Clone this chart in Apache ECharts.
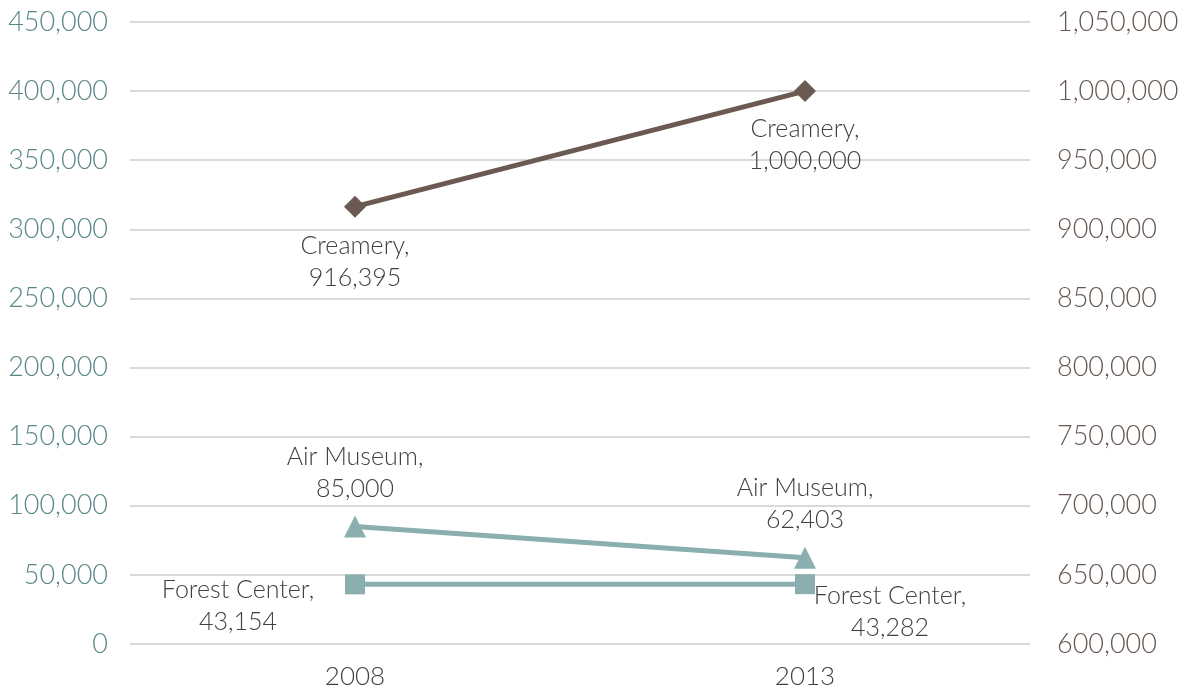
<!DOCTYPE html>
<html>
<head>
<meta charset="utf-8">
<script src="https://cdn.jsdelivr.net/npm/echarts@6/dist/echarts.min.js"></script>
<style>
  html, body { margin: 0; padding: 0; background: #fff; }
  #main { width: 1188px; height: 694px; }
</style>
</head>
<body>
<div id="main"></div>
<script>
var years = ['2008', '2013'];
var creamery = [916395, 1000000];
var airMuseum = [85000, 62403];
var forestCenter = [43154, 43282];

var dom = document.getElementById('main');
var chart = echarts.init(dom);

var fontFam = 'Lato, "Open Sans", sans-serif';

function fmt(v) {
    return v.toLocaleString('en-US');
}

function lab(offset) {
    return {
        show: true,
        position: 'inside',
        offset: offset,
        align: 'center',
        verticalAlign: 'middle',
        color: '#404040',
        fontSize: 25,
        fontWeight: 300,
        fontFamily: fontFam,
        lineHeight: 32,
        formatter: function (p) {
            return p.seriesName + ',\n' + fmt(p.value);
        }
    };
}

var option = {
    animation: false,
    grid: {
        left: 130,
        right: 158,
        top: 22,
        bottom: 50
    },
    xAxis: {
        type: 'category',
        data: years,
        axisLine: {show: false},
        axisTick: {show: false},
        axisLabel: {
            color: '#404040',
            fontSize: 26,
            fontWeight: 300,
            fontFamily: fontFam,
            margin: 20
        }
    },
    yAxis: [{
        type: 'value',
        min: 0,
        max: 450000,
        interval: 50000,
        axisLine: {show: false},
        axisTick: {show: false},
        splitLine: {lineStyle: {color: '#d9d9d9', width: 2}},
        axisLabel: {
            color: '#5a8787',
            fontSize: 27,
            fontWeight: 300,
            fontFamily: fontFam,
            margin: 22,
            formatter: fmt
        }
    }, {
        type: 'value',
        min: 600000,
        max: 1050000,
        interval: 50000,
        axisLine: {show: false},
        axisTick: {show: false},
        splitLine: {show: false},
        axisLabel: {
            color: '#665751',
            fontSize: 27,
            fontWeight: 300,
            fontFamily: fontFam,
            margin: 27,
            formatter: fmt
        }
    }],
    series: [{
        name: 'Creamery',
        type: 'line',
        yAxisIndex: 1,
        data: [
            {value: creamery[0], label: lab([0, 55])},
            {value: creamery[1], label: lab([0, 54])}
        ],
        symbol: 'diamond',
        symbolSize: 22,
        lineStyle: {width: 5, color: '#6b5a52'},
        itemStyle: {color: '#6b5a52'}
    }, {
        name: 'Air Museum',
        type: 'line',
        data: [
            {value: airMuseum[0], label: lab([0, -54])},
            {value: airMuseum[1], label: lab([0, -54])}
        ],
        symbol: 'triangle',
        symbolSize: 22,
        lineStyle: {width: 5, color: '#8bafae'},
        itemStyle: {color: '#8bafae'}
    }, {
        name: 'Forest Center',
        type: 'line',
        data: [
            {value: forestCenter[0], label: lab([-117, 22])},
            {value: forestCenter[1], label: lab([85, 28])}
        ],
        symbol: 'rect',
        symbolSize: 20,
        lineStyle: {width: 5, color: '#8bafae'},
        itemStyle: {color: '#8bafae'}
    }]
};

chart.setOption(option, true);
</script>
</body>
</html>
